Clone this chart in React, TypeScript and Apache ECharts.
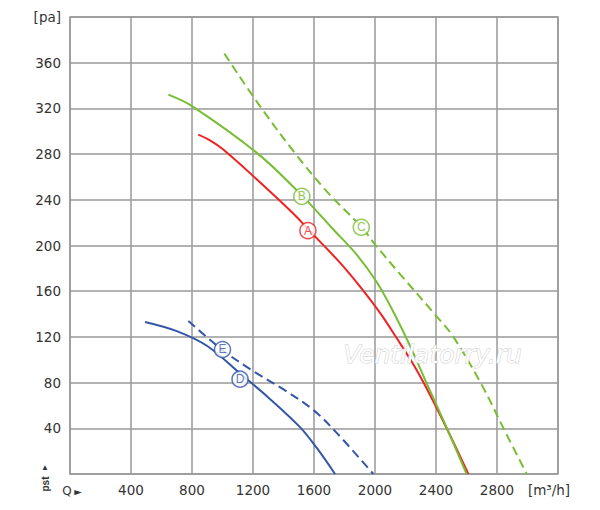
import React, { useEffect, useRef } from "react";
import * as echarts from "echarts";

const xTicks = [0, 400, 800, 1200, 1600, 2000, 2400, 2800, 3200];
const yTicks = [0, 40, 80, 120, 160, 200, 240, 280, 320, 360, 400];

const curveA: number[][] = [[841, 297], [918, 292], [1005, 284], [1224, 258], [1464, 228], [1563, 214], [1770, 185], [1902, 164], [2033, 141], [2142, 119], [2251, 96], [2350, 72], [2470, 40], [2612, 0]];
const curveB: number[][] = [[645, 332], [800, 322], [1235, 280], [1526, 243], [1727, 214], [1880, 192], [2011, 168], [2120, 142], [2230, 112], [2330, 82], [2465, 42], [2601, 0]];
const curveC: number[][] = [[1012, 368], [1235, 324], [1480, 280], [1700, 245], [1913, 216], [2000, 201], [2164, 175], [2404, 138], [2514, 120], [2700, 78], [2850, 38], [2995, 0]];
const curveD: number[][] = [[492, 133], [700, 125], [900, 112], [1115, 88], [1300, 67], [1508, 41], [1617, 23], [1738, 0]];
const curveE: number[][] = [[776, 134], [995, 109], [1202, 90], [1400, 74], [1596, 56], [1749, 36], [1989, 0]];

const markerNames = ["A", "B", "C", "D", "E"];
const markerPos: number[][] = [[1560, 213], [1520, 243], [1910, 216], [1115, 83], [1000, 109]];

const RED = "#ee2222";
const GREEN = "#78bd34";
const BLUE = "#3556a8";
const markerColors = [RED, GREEN, GREEN, BLUE, BLUE];

const FONT = "DejaVu Sans";

export default function App() {
  const ref = useRef<HTMLDivElement>(null);
  useEffect(() => {
    if (!ref.current) return;
    const chart = echarts.init(ref.current, null, { renderer: "svg" });
    const lineSeries = (data: number[][], color: string, dashed: boolean) => ({
      type: "line",
      data,
      smooth: 0.35,
      showSymbol: false,
      symbol: "none",
      lineStyle: { color, width: 2, type: dashed ? [9, 5] : "solid" },
      z: 3,
    });
    const markers = markerNames.map((n, i) => ({
      type: "scatter",
      data: [markerPos[i]],
      symbol: "circle",
      symbolSize: 16,
      itemStyle: { color: "#fff", borderColor: markerColors[i], borderWidth: 1.5 },
      label: {
        show: true,
        position: "inside",
        formatter: n,
        color: markerColors[i],
        fontSize: 12,
        fontFamily: "Liberation Sans, Arial",
      },
      z: 5,
    }));
    chart.setOption({
      animation: false,
      backgroundColor: "#fff",
      grid: {
        left: 70,
        right: 42,
        top: 17,
        bottom: 36,
        show: true,
        borderColor: "#999",
        borderWidth: 1.5,
        containLabel: false,
        outerBoundsMode: "none",
      },
      xAxis: {
        type: "value",
        min: xTicks[0],
        max: xTicks[xTicks.length - 1],
        interval: 400,
        axisLine: { show: false },
        axisTick: { show: false },
        splitLine: { show: true, lineStyle: { color: "#999", width: 1.5 } },
        axisLabel: {
          margin: 9,
          color: "#333",
          fontSize: 13.5,
          fontFamily: FONT,
          formatter: (v: number) => (v === 0 || v === 3200 ? "" : String(v)),
        },
      },
      yAxis: {
        type: "value",
        min: yTicks[0],
        max: yTicks[yTicks.length - 1],
        interval: 40,
        axisLine: { show: false },
        axisTick: { show: false },
        splitLine: { show: true, lineStyle: { color: "#999", width: 1.5 } },
        axisLabel: {
          margin: 9,
          color: "#333",
          fontSize: 13.5,
          fontFamily: FONT,
          formatter: (v: number) => (v === 0 ? "" : v === 400 ? "[pa]" : String(v)),
        },
      },
      graphic: [
        {
          type: "text",
          x: 549,
          y: 490,
          style: { text: "[m³/h]", fontSize: 13.5, fontFamily: FONT, fill: "#333", align: "center", verticalAlign: "middle" },
        },
        {
          type: "text",
          x: 67,
          y: 491,
          style: { text: "Q", fontSize: 12, fontFamily: FONT, fill: "#333", align: "center", verticalAlign: "middle" },
        },
        {
          type: "text",
          x: 78,
          y: 491,
          style: { text: "►", fontSize: 10, fontFamily: FONT, fill: "#333", align: "center", verticalAlign: "middle" },
        },
        {
          type: "text",
          x: 45,
          y: 467,
          style: { text: "▲", fontSize: 8, fill: "#333", align: "center", verticalAlign: "middle" },
        },
        {
          type: "text",
          x: 45,
          y: 484,
          rotation: Math.PI / 2,
          style: {
            text: "pst",
            fontSize: 10,
            fontWeight: "bold",
            fontFamily: "Liberation Sans, Arial",
            fill: "#333",
            align: "center",
            verticalAlign: "middle",
          },
        },
        {
          type: "text",
          left: 343,
          top: 341,
          z: 10,
          style: {
            text: "Ventilatorry.ru",
            fontSize: 25,
            fontStyle: "italic",
            fontFamily: "DejaVu Sans",
            fill: "rgba(255,255,255,0.95)",
            stroke: "#cfcfcf",
            lineWidth: 1,
          },
        },
      ],
      series: [
        lineSeries(curveA, RED, false),
        lineSeries(curveB, GREEN, false),
        lineSeries(curveC, GREEN, true),
        lineSeries(curveD, BLUE, false),
        lineSeries(curveE, BLUE, true),
        ...markers,
      ],
    });
    return () => chart.dispose();
  }, []);
  return <div ref={ref} style={{ position: "fixed", left: 0, top: 0, width: 600, height: 510 }} />;
}
